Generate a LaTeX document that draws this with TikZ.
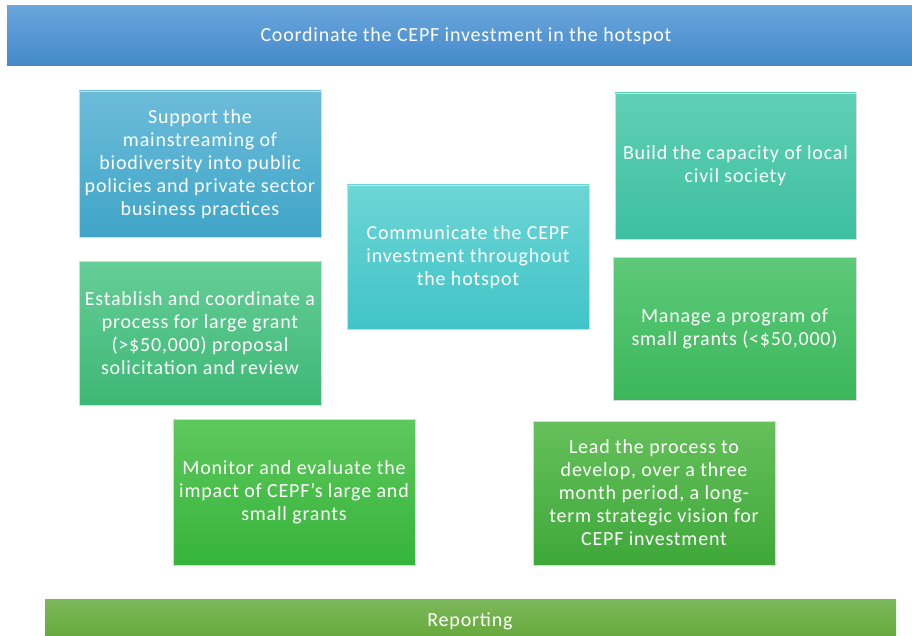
\documentclass[tikz,border=0pt]{standalone}
\usepackage{fontspec}
\setmainfont{Carlito}[LetterSpace=4]
\begin{document}
\begin{tikzpicture}[x=1pt,y=-1pt,
  tile/.style={inner sep=0pt, text=white, align=center,
    font=\fontsize{20}{23}\selectfont, draw=white!85!black, line width=0.4pt},
  bar/.style={inner sep=0pt, text=white, align=center,
    font=\fontsize{20}{23}\selectfont}]
\useasboundingbox (0,0) rectangle (912,636);
% colour pairs: top / bottom of each gradient
\definecolor{coordT}{HTML}{6AA5DC}\definecolor{coordB}{HTML}{4389C9}
\definecolor{suppT}{HTML}{6CBCD9}\definecolor{suppB}{HTML}{3FA5C8}
\definecolor{buildT}{HTML}{60D0B5}\definecolor{buildB}{HTML}{3DC09F}
\definecolor{commT}{HTML}{6DD5D5}\definecolor{commB}{HTML}{40C4C8}
\definecolor{estT}{HTML}{66CD98}\definecolor{estB}{HTML}{3DB874}
\definecolor{manT}{HTML}{5EC97A}\definecolor{manB}{HTML}{3BB75A}
\definecolor{monT}{HTML}{5EC85D}\definecolor{monB}{HTML}{36B43A}
\definecolor{leadT}{HTML}{66C05B}\definecolor{leadB}{HTML}{3EA83A}
\definecolor{repT}{HTML}{7DB85C}\definecolor{repB}{HTML}{64A838}

% header and footer bars
\shade[top color=coordT, bottom color=coordB] (7,6) rectangle (912,66);
\node[bar] (coord) at (466,36) {Coordinate the CEPF investment in the hotspot};
\shade[top color=repT, bottom color=repB] (45,599) rectangle (896,640);
\node[bar] (rep) at (470,621) {Reporting};

% activity tiles
\node[tile, minimum width=242, minimum height=146,
  top color=suppT, bottom color=suppB] (supp) at (200,164)
  {Support the\\mainstreaming of\\biodiversity into public\\policies and private sector\\business practices};
\node[tile, minimum width=241, minimum height=146,
  top color=buildT, bottom color=buildB] (build) at (735.5,166)
  {Build the capacity of local\\civil society};
\node[tile, minimum width=242, minimum height=144,
  top color=commT, bottom color=commB] (comm) at (468,257)
  {Communicate the CEPF\\investment throughout\\the hotspot};
\node[tile, minimum width=242, minimum height=144,
  top color=estT, bottom color=estB] (est) at (200,333)
  {Establish and coordinate a\\process for large grant\\(>\$50,000) proposal\\solicitation and review};
\node[tile, minimum width=243, minimum height=143,
  top color=manT, bottom color=manB] (man) at (734.5,328.5)
  {Manage a program of\\small grants (<\$50,000)};
\node[tile, minimum width=242, minimum height=146,
  top color=monT, bottom color=monB] (mon) at (294,492)
  {Monitor and evaluate the\\impact of CEPF’s large and\\small grants};
\node[tile, minimum width=242, minimum height=144,
  top color=leadT, bottom color=leadB] (lead) at (654,493)
  {Lead the process to\\develop, over a three\\month period, a long-\\term strategic vision for\\CEPF investment};
\end{tikzpicture}
\end{document}
